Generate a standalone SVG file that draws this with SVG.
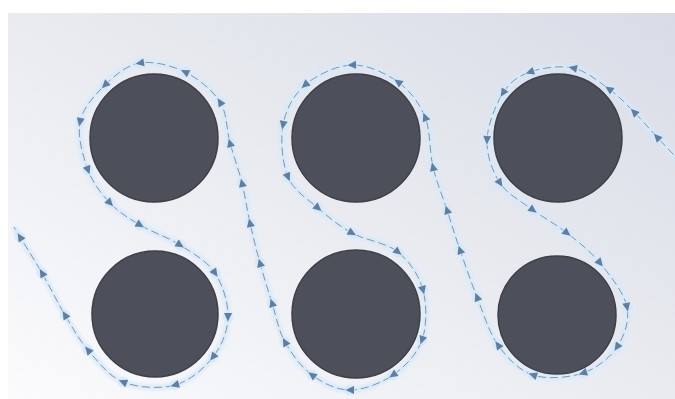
<svg xmlns="http://www.w3.org/2000/svg" width="675" height="399" viewBox="0 0 675 399">
  <defs>
    <linearGradient id="bg" x1="0" y1="1" x2="1" y2="0">
      <stop offset="0" stop-color="#fbfbfd"/>
      <stop offset="0.5" stop-color="#e9ebf0"/>
      <stop offset="1" stop-color="#d9dce7"/>
    </linearGradient>
    <filter id="soft" x="-5%" y="-5%" width="110%" height="110%">
      <feGaussianBlur stdDeviation="1.8"/>
    </filter>
    <marker id="arrow" viewBox="-7 -7 14 14" markerWidth="14" markerHeight="14" refX="0" refY="0" orient="auto" markerUnits="userSpaceOnUse">
      <circle cx="0" cy="0" r="5.5" fill="#d2e8fb" opacity="0.7"/>
      <path d="M4.5,0 L-4,-4 L-4,4 Z" fill="#5f7fa2"/>
    </marker>
    <style>
      .cyl { fill: #4d4f5a; stroke: #3d3f48; stroke-width: 1.5; }
      .halo { fill: none; stroke: #d4eafb; stroke-width: 6; stroke-linejoin: round; opacity: 0.85; filter: url(#soft); }
      .stream { fill: none; stroke: #8a93a1; stroke-width: 1; stroke-dasharray: 8 4; marker-mid: url(#arrow); }
    </style>
  </defs>

  <!-- backdrop -->
  <rect width="675" height="399" fill="#ffffff"/>
  <rect x="8" y="13" width="667" height="386" fill="url(#bg)"/>

  <!-- flow streamline weaving through the cylinder array -->
  <g id="connectors">
    <path id="streamline-halo" class="halo" d="M690,172 C684.5,166.2 666.3,147 657,137 S642,120 634,112 S619.2,96.3 609,89 S586.2,70.8 573,68 S541.7,67.8 530,72 S510.2,81.7 503,93 S487.5,125 487,140 S492.3,171.3 500,183 S521.8,201.7 533,210 S555.8,224.2 567,233 S590,250.7 600,263 S624.2,293 627,307 S624.3,336 617,347 S597,368.3 583,373 S547.2,379.7 533,375 S507.3,358 498,345 S483.3,312.8 477,297 S465,264.5 460,250 S451.5,223.8 447,210 S436.7,182.5 433,167 S430.8,131.2 425,117 S410.2,90.7 398,82 S367.5,64.5 352,65 S316.5,75 305,85 S285.8,109.7 283,125 S282.2,163.2 288,177 S307.3,198.7 318,208 S338.7,225.7 352,233 S386.2,242.5 398,252 S419,275.3 423,290 S427,325.8 422,340 S405,366.7 393,375 S363.5,390 350,390 S322.8,383 312,375 S291.7,354 285,342 S276.2,316.2 272,303 S263.7,276.3 260,263 S253,236.3 250,223 S245.3,196.3 242,183 S233.7,156.5 230,143 S227.5,113.8 220,102 S198.3,78.5 185,72 S153.3,60.8 140,63 S115,75.2 105,85 S82.8,107.8 80,122 S83,156.5 88,170 S101.3,193.8 110,203 S128.3,218 140,225 S167.5,237 180,245 S207,261 215,273 S228.3,303 228,317 S221.8,345.7 213,357 S190,380.8 175,385 S137.5,387.8 123,382 S97.7,361.2 88,350 S72.7,327.8 65,315 S49.5,286 42,273 S24.7,244.7 20,237 S15,228.7 14,227"/>
    <path id="streamline" class="stream" d="M690,172 C684.5,166.2 666.3,147 657,137 S642,120 634,112 S619.2,96.3 609,89 S586.2,70.8 573,68 S541.7,67.8 530,72 S510.2,81.7 503,93 S487.5,125 487,140 S492.3,171.3 500,183 S521.8,201.7 533,210 S555.8,224.2 567,233 S590,250.7 600,263 S624.2,293 627,307 S624.3,336 617,347 S597,368.3 583,373 S547.2,379.7 533,375 S507.3,358 498,345 S483.3,312.8 477,297 S465,264.5 460,250 S451.5,223.8 447,210 S436.7,182.5 433,167 S430.8,131.2 425,117 S410.2,90.7 398,82 S367.5,64.5 352,65 S316.5,75 305,85 S285.8,109.7 283,125 S282.2,163.2 288,177 S307.3,198.7 318,208 S338.7,225.7 352,233 S386.2,242.5 398,252 S419,275.3 423,290 S427,325.8 422,340 S405,366.7 393,375 S363.5,390 350,390 S322.8,383 312,375 S291.7,354 285,342 S276.2,316.2 272,303 S263.7,276.3 260,263 S253,236.3 250,223 S245.3,196.3 242,183 S233.7,156.5 230,143 S227.5,113.8 220,102 S198.3,78.5 185,72 S153.3,60.8 140,63 S115,75.2 105,85 S82.8,107.8 80,122 S83,156.5 88,170 S101.3,193.8 110,203 S128.3,218 140,225 S167.5,237 180,245 S207,261 215,273 S228.3,303 228,317 S221.8,345.7 213,357 S190,380.8 175,385 S137.5,387.8 123,382 S97.7,361.2 88,350 S72.7,327.8 65,315 S49.5,286 42,273 S24.7,244.7 20,237 S15,228.7 14,227"/>
  </g>

  <!-- cylinders, two rows of three -->
  <g id="cylinder-top-left"><circle class="cyl" cx="154" cy="138" r="64"/></g>
  <g id="cylinder-bottom-left"><circle class="cyl" cx="155" cy="314" r="63"/></g>
  <g id="cylinder-top-middle"><circle class="cyl" cx="356" cy="138" r="64"/></g>
  <g id="cylinder-bottom-middle"><circle class="cyl" cx="356" cy="314" r="64"/></g>
  <g id="cylinder-top-right"><circle class="cyl" cx="558" cy="138" r="64"/></g>
  <g id="cylinder-bottom-right"><circle class="cyl" cx="557" cy="315" r="59"/></g>
</svg>
